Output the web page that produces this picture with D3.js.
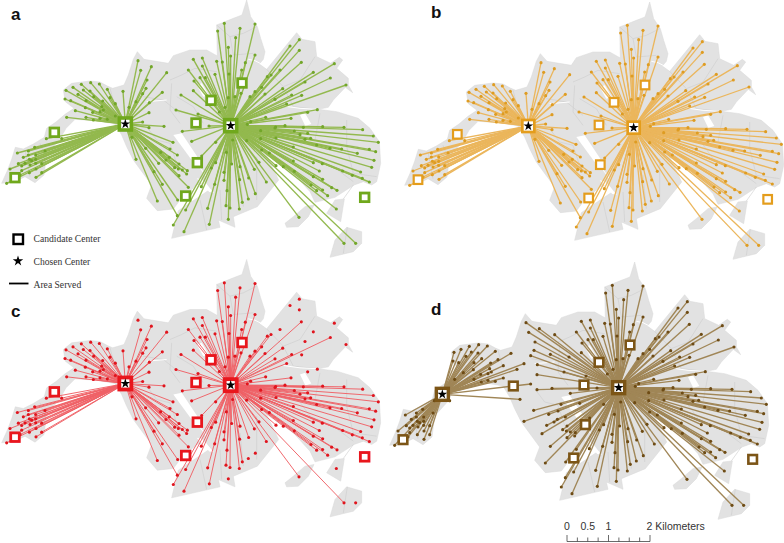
<!DOCTYPE html>
<html>
<head>
<meta charset="utf-8">
<script src="https://cdn.jsdelivr.net/npm/d3@7"></script>
<style>
html, body { margin: 0; padding: 0; background: #fff; }
svg { display: block; }
</style>
</head>
<body>
<div id="plot"></div>
<script>
// all map data is in one map unit system, panels only shift it
var mapBody = [[5,550],[22,512],[35,478],[46,442],[70,447],[100,432],[133,412],[140,385],[168,366],[195,343],[222,325],[196,305],[190,270],[215,250],[270,243],[300,246],[322,258],[338,265],[372,255],[385,225],[400,178],[412,155],[432,178],[505,190],[520,167],[570,150],[620,150],[652,168],[650,75],[700,55],[726,45],[740,0],[752,50],[772,80],[782,115],[795,155],[790,178],[778,192],[800,208],[890,98],[906,118],[945,125],[950,170],[992,190],[1018,172],[1028,180],[1010,205],[1045,235],[1045,255],[1058,278],[1036,262],[1000,300],[985,322],[955,328],[1010,335],[1075,355],[1110,385],[1138,425],[1142,490],[1130,545],[1115,555],[1090,545],[1062,555],[1005,592],[945,607],[930,575],[880,520],[800,465],[836,540],[772,620],[700,650],[705,682],[655,660],[660,682],[515,715],[535,632],[632,567],[618,548],[590,555],[540,600],[520,627],[472,632],[440,595],[455,555],[400,480],[380,440],[365,405],[345,372],[290,362],[225,358],[198,385],[178,420],[140,462],[132,525],[105,548],[75,530],[45,545]];
var mapIslands = [
	[[1005,600],[1033,597],[1022,665],[980,640]],
	[[855,670],[880,650],[915,620],[942,615],[925,650],[895,680],[860,682]],
	[[990,772],[1005,720],[1040,682],[1085,695],[1085,730],[1060,755]]
];
var mapGaps = [
	[[520,405],[545,400],[592,470],[575,480]],
	[[590,535],[605,538],[642,578],[628,576]],
	[[590,255],[605,250],[626,285],[610,290]],
	[[900,345],[915,340],[934,372],[916,378]]
];
var tractLines = [
	[[510,240],[545,225],[585,205],[650,215]],[[515,250],[510,330],[540,370]],[[530,290],[580,320],[610,370]],
	[[650,75],[690,110],[730,100],[770,80]],[[690,110],[700,165],[760,160]],[[800,208],[850,260],[900,240],[945,170]],
	[[850,260],[880,320],[955,328]],[[960,340],[945,420],[990,430],[1075,440]],[[1040,360],[1040,440],[1060,520],[1130,530]],
	[[880,400],[930,470],[1000,500],[1060,545]],[[600,600],[620,690]],[[660,570],[665,660]],[[720,520],[730,620]],
	[[770,470],[770,600]],[[440,380],[470,420],[510,430],[530,490]],[[430,290],[490,300],[540,340]],[[330,265],[345,320]],
	[[75,450],[90,530]],[[120,430],[135,470]],[[1030,597],[1060,555]],[[1042,682],[1030,760]]
];
var whiteLines = [
	[[745,178],[765,182],[790,195]],[[850,318],[900,325],[955,328]],[[440,305],[500,300]],[[590,490],[620,530]]
];

var westTown = [[52,459],[85,453],[104,442],[135,453],[139,416],[185,416],[70,472],[85,465],[107,465],[88,478],[107,478],[95,482],[125,491],[107,490],[65,498],[55,491],[75,490],[30,507],[90,495],[65,512],[108,507],[125,518],[88,518],[108,532],[20,550],[60,525]];
var nearNorthWest = [[198,271],[219,262],[244,253],[272,248],[298,252],[322,268],[195,297],[212,302],[234,283],[250,270],[270,273],[281,290],[308,303],[330,293],[346,311],[258,302],[226,332],[256,323],[278,337],[300,335],[310,330],[305,320],[200,352],[258,352],[280,360],[300,355],[322,358],[346,348],[369,274],[387,322],[408,305],[428,366],[396,412]];
var northOfA = [[422,211],[454,200],[500,218],[441,240],[438,265],[428,281],[487,277],[448,308],[447,338],[492,379],[447,383]];
var southOfA = [[437,445],[408,478],[519,427],[510,447],[482,457],[532,465],[508,472],[498,480],[476,490],[524,503],[537,492],[547,510],[562,512],[535,507],[560,522],[537,527],[462,515],[487,553],[533,600],[472,603],[565,562],[532,647]];
var northTip = [[414,182]];
var northOfB = [[673,70],[653,93],[720,85],[765,72],[707,113],[685,142],[692,168],[765,165],[736,188],[580,178],[607,174],[650,184],[667,186],[565,210],[607,198],[645,223],[687,222],[725,210],[582,243],[600,233],[616,233],[580,272],[543,285],[528,330],[594,342],[627,378],[685,293],[658,336],[675,322],[705,290],[723,280],[750,290],[765,275],[785,262],[802,230],[813,225],[848,266],[795,282],[875,285],[825,298],[860,312],[873,355],[797,352],[752,365],[742,373],[904,187],[991,234],[827,381],[547,394],[575,424],[605,468]];
var eastOfB = [[968,380],[1032,382],[910,382],[855,377],[825,384],[782,392],[883,393],[900,404],[923,400],[932,415],[915,418],[828,414],[782,416],[740,422],[698,420],[647,427],[1088,389],[1120,408],[1135,427],[1108,448],[1127,455],[1122,481],[1115,502],[950,435],[880,441],[990,445],[1025,447],[1072,460],[808,459],[785,450],[880,483],[940,488],[967,491],[828,497],[850,500],[883,514],[958,513],[1028,513],[1082,516],[1057,526],[1087,535],[1108,546],[1011,571],[995,563],[968,538],[940,530],[933,555],[950,572],[968,570],[983,587],[897,652],[1032,730]];
var southOfB = [[777,487],[763,508],[799,546],[746,534],[727,607],[718,627],[690,624],[678,617],[681,572],[672,541],[672,517],[695,492],[679,457],[720,500],[719,539],[647,488],[634,504],[644,553],[604,560],[623,625],[628,673],[552,695],[557,630],[520,675]];
// these lose their line in panel c
var unservedInC = [[898,119],[870,138],[898,151],[840,210],[940,217],[1003,191],[1038,255],[915,246],[905,286],[952,329],[923,337],[1009,627],[1067,730],[685,658],[766,581],[745,597]];

var centers = { A: [376,372], B: [692,377], W: [163,397] };
var otherCandidates = [[45,533],[633,301],[726,249],[588,369],[592,488],[557,588],[1094,592]];

// who serves each group in panels a, b, c, d
var serving = [
	[westTown,      ["A","A","A","W"]],
	[nearNorthWest, ["A","A","A","W"]],
	[northOfA,      ["A","A","A","B"]],
	[southOfA,      ["A","A","A","B"]],
	[northTip,      ["A","A",null,"B"]],
	[northOfB,      ["B","B","B","B"]],
	[eastOfB,       ["B","B","B","B"]],
	[southOfB,      ["B","B","B","B"]],
	[unservedInC,   ["B","B",null,"B"]]
];

var panels = [
	{ label: "a", x: 0,   y: 0,     labelX: 11,  labelY: 20,  chosen: ["A","B"], line: "#93b94f", lineW: 1.35, dot: "#72a629", box: "#6fa81f", boxW: 2.8, bigW: 3.6 },
	{ label: "b", x: 403, y: 2,     labelX: 431, labelY: 18,  chosen: ["A","B"], line: "#ebb65c", lineW: 1.3,  dot: "#de9c22", box: "#e49d1e", boxW: 2.2, bigW: 2.7 },
	{ label: "c", x: 0,   y: 259.5, labelX: 11,  labelY: 317, chosen: ["A","B"], line: "#ef6166", lineW: 0.95, dot: "#e0141f", box: "#e8121c", boxW: 2.8, bigW: 3.8 },
	{ label: "d", x: 388, y: 262,   labelX: 431, labelY: 315, chosen: ["W","B"], line: "#a08657", lineW: 1.35, dot: "#6e4c12", box: "#7b5518", boxW: 2.6, bigW: 3.4 }
];

var scaleTicks = [0, 0.25, 0.5, 0.75, 1, 1.25, 1.5, 1.75, 2];
var scaleLabels = [[0, "0"], [0.5, "0.5"], [1, "1"]];

var svg = d3.select("#plot")
	.append("svg")
	.attr("width", 784)
	.attr("height", 543);

// the source is a soft raster, so take the edge off the marks a little
svg.append("defs").append("filter")
	.attr("id", "soft")
	.append("feGaussianBlur")
	.attr("stdDeviation", 0.3);

panels.forEach(function(panel, p){

	var x = d3.scaleLinear().domain([0, 1176]).range([panel.x, panel.x + 392]);
	var y = d3.scaleLinear().domain([0, 816]).range([panel.y, panel.y + 272]);
	var outline = d3.line().x(function(d){ return x(d[0]); }).y(function(d){ return y(d[1]); });
	var g = svg.append("g").attr("filter", "url(#soft)");

	[mapBody].concat(mapIslands).forEach(function(shape){
		g.append("path")
			.attr("d", outline(shape) + "Z")
			.style("fill", "#e2e2e2")
			.style("stroke", "#d8d8d8")
			.style("stroke-width", "0.5");
	});

	mapGaps.forEach(function(shape){
		g.append("path")
			.attr("d", outline(shape) + "Z")
			.style("fill", "#fff");
	});

	tractLines.forEach(function(l){
		g.append("path")
			.attr("d", outline(l))
			.style("fill", "none")
			.style("stroke", "#cdcdcd")
			.style("stroke-width", "0.6");
	});

	whiteLines.forEach(function(l){
		g.append("path")
			.attr("d", outline(l))
			.style("fill", "none")
			.style("stroke", "#fff")
			.style("stroke-width", "1");
	});

	serving.forEach(function(row){
		var center = centers[row[1][p]];
		row[0].forEach(function(pt){
			if (center) {
				g.append("line")
					.attr("x1", x(center[0]))
					.attr("y1", y(center[1]))
					.attr("x2", x(pt[0]))
					.attr("y2", y(pt[1]))
					.style("stroke", panel.line)
					.style("stroke-width", panel.lineW);
			}
		});
	});

	serving.forEach(function(row){
		row[0].forEach(function(pt){
			g.append("circle")
				.attr("cx", x(pt[0]))
				.attr("cy", y(pt[1]))
				.attr("r", 1.55)
				.style("fill", panel.dot);
		});
	});

	// boxes, chosen ones are bigger and get a star
	var all = otherCandidates.concat([centers.A, centers.B, centers.W]);
	var chosen = panel.chosen.map(function(k){ return centers[k]; });

	all.forEach(function(c){
		var big = chosen.indexOf(c) >= 0;
		var s = big ? 12 : 8.6;
		g.append("rect")
			.attr("x", x(c[0]) - s / 2)
			.attr("y", y(c[1]) - s / 2)
			.attr("width", s)
			.attr("height", s)
			.style("fill", "#fff")
			.style("stroke", panel.box)
			.style("stroke-width", big ? panel.bigW : panel.boxW);
	});

	chosen.forEach(function(c){
		g.append("path")
			.attr("d", d3.symbol().type(d3.symbolStar).size(30)())
			.attr("transform", "translate(" + x(c[0]) + "," + y(c[1]) + ")")
			.style("fill", "#000");
	});

	svg.append("text")
		.text(panel.label)
		.attr("x", panel.labelX)
		.attr("y", panel.labelY)
		.style("font-family", "'Liberation Sans', Arial, sans-serif")
		.style("font-weight", "bold")
		.style("font-size", "17px")
		.style("fill", "#111");
});

// legend
var legendFont = "'Liberation Serif', 'Times New Roman', serif";

svg.append("rect")
	.attr("x", 13.5).attr("y", 234.5).attr("width", 9.5).attr("height", 9.5)
	.style("fill", "#fff").style("stroke", "#000").style("stroke-width", "2.4");
svg.append("path")
	.attr("d", d3.symbol().type(d3.symbolStar).size(34)())
	.attr("transform", "translate(18,261)")
	.style("fill", "#000");
svg.append("line")
	.attr("x1", 9).attr("x2", 28.5).attr("y1", 283.5).attr("y2", 283.5)
	.style("stroke", "#000").style("stroke-width", "1.8");

[["Candidate Center", 242], ["Chosen Center", 265], ["Area Served", 288]].forEach(function(d){
	svg.append("text")
		.text(d[0])
		.attr("x", 33.5)
		.attr("y", d[1])
		.style("font-family", legendFont)
		.style("font-size", "9.6px")
		.style("fill", "#333");
});

// scale bar
var barScale = d3.scaleLinear().domain([0, 2]).range([567, 650]);
var barFont = "'Liberation Sans', Arial, sans-serif";

svg.append("line")
	.attr("x1", barScale(0)).attr("x2", barScale(2))
	.attr("y1", 541.5).attr("y2", 541.5)
	.style("stroke", "#444").style("stroke-width", "0.8");

scaleTicks.forEach(function(t){
	var major = t === 0 || t === 1 || t === 2;
	svg.append("line")
		.attr("x1", barScale(t)).attr("x2", barScale(t))
		.attr("y1", major ? 535 : 537.5).attr("y2", 541.5)
		.style("stroke", "#444").style("stroke-width", "0.8");
});

scaleLabels.forEach(function(d){
	svg.append("text")
		.text(d[1])
		.attr("x", barScale(d[0]))
		.attr("y", 530)
		.attr("text-anchor", "middle")
		.style("font-family", barFont)
		.style("font-size", "10.5px")
		.style("fill", "#333");
});

svg.append("text")
	.text("2 Kilometers")
	.attr("x", barScale(2) - 3.5)
	.attr("y", 530)
	.style("font-family", barFont)
	.style("font-size", "10.5px")
	.style("fill", "#333");
</script>
</body>
</html>
